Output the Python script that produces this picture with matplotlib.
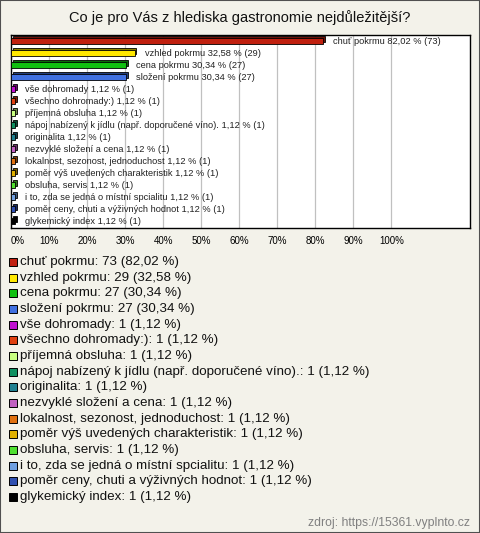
import numpy as np
import matplotlib
matplotlib.use('Agg')
import matplotlib.pyplot as plt
from matplotlib.patches import Rectangle
from matplotlib.transforms import offset_copy

plt.rcParams['font.family'] = ['Liberation Sans', 'DejaVu Sans']

title = 'Co je pro Vás z hlediska gastronomie nejdůležitější?'
labels = ['chuť pokrmu', 'vzhled pokrmu', 'cena pokrmu', 'složení pokrmu',
          'vše dohromady', 'všechno dohromady:)', 'příjemná obsluha',
          'nápoj nabízený k jídlu (např. doporučené víno).', 'originalita',
          'nezvyklé složení a cena', 'lokalnost, sezonost, jednoduchost',
          'poměr výš uvedených charakteristik', 'obsluha, servis',
          'i to, zda se jedná o místní spcialitu',
          'poměr ceny, chuti a výživných hodnot', 'glykemický index']
counts = [73, 29, 27, 27, 1, 1, 1, 1, 1, 1, 1, 1, 1, 1, 1, 1]
percents = [82.02, 32.58, 30.34, 30.34, 1.12, 1.12, 1.12, 1.12, 1.12, 1.12,
            1.12, 1.12, 1.12, 1.12, 1.12, 1.12]
colors = ['#C0200F', '#FFE800', '#10C010', '#4070E0', '#C010D0', '#E04010',
          '#C8FF80', '#109060', '#208090', '#C060C0', '#E07010', '#E0B000',
          '#50E030', '#70A0E0', '#3050B0', '#000000']
xticks = [0, 10, 20, 30, 40, 50, 60, 70, 80, 90, 100]
source = 'zdroj: https://15361.vyplnto.cz'

bg = '#F3F2EA'
W, H = 480, 533
fig = plt.figure(figsize=(W / 100, H / 100), dpi=100, facecolor=bg)

def fx(px):
    return px / W

def fy(py):
    return 1 - py / H

fig.patches.append(Rectangle((0, 0), 1, 1, transform=fig.transFigure,
                             fill=False, edgecolor='#505050', lw=1.5))
fig.text(0.5, fy(18), title, ha='center', va='center', fontsize=10.5,
         color='#111111')

ax = fig.add_axes([fx(11), fy(228), fx(459), (228 - 35) / H])
ax.set_facecolor('white')
y = np.arange(len(labels))


def darker(c, f=0.55):
    r, g, b, a = matplotlib.colors.to_rgba(c)
    return (r * f, g * f, b * f, 1)


depth = offset_copy(ax.transData, fig=fig, x=1.6, y=1.6, units='dots')
ax.barh(y, percents, height=0.5, color=[darker(c) for c in colors],
        edgecolor='black', lw=0.6, transform=depth, zorder=2)
ax.barh(y, percents, height=0.5, color=colors, edgecolor='black',
        lw=0.6, zorder=3)

for yi, lab, p, c in zip(y, labels, percents, counts):
    txt = '%s %s %% (%d)' % (lab, ('%.2f' % p).replace('.', ','), c)
    ax.annotate(txt, (p, yi), xytext=(7, 0), textcoords='offset points',
                va='center', ha='left', fontsize=6.7, color='#222222')

ax.set_xlim(0, 120.7)
ax.set_ylim(15.58, -0.5)
ax.set_xticks(xticks)
ax.set_xticklabels(['%d%%' % t for t in xticks], fontsize=7)
ax.get_xticklabels()[0].set_ha('left')
ax.tick_params(axis='x', length=0, pad=6)
ax.set_yticks([])
ax.grid(axis='x', color='#C0C0C0', lw=0.9, zorder=0)
ax.set_axisbelow(True)
for s in ax.spines.values():
    s.set_color('black')
    s.set_linewidth(1)

# legend
for i, (lab, p, c, col) in enumerate(zip(labels, percents, counts, colors)):
    yc = 262 + i * 15.67
    fig.patches.append(Rectangle((fx(9), fy(yc + 4)), fx(8), 8 / H,
                                 transform=fig.transFigure, facecolor=col,
                                 edgecolor='black', lw=0.7))
    fig.text(fx(20), fy(yc), '%s: %d (%s %%)' % (lab, c, ('%.2f' % p).replace('.', ',')),
             ha='left', va='center', fontsize=9.6, color='#111111')

fig.text(fx(470), fy(523), source, ha='right', va='center', fontsize=8.8,
         color='#808080')

fig.savefig('out.png', dpi=100, facecolor=bg)
